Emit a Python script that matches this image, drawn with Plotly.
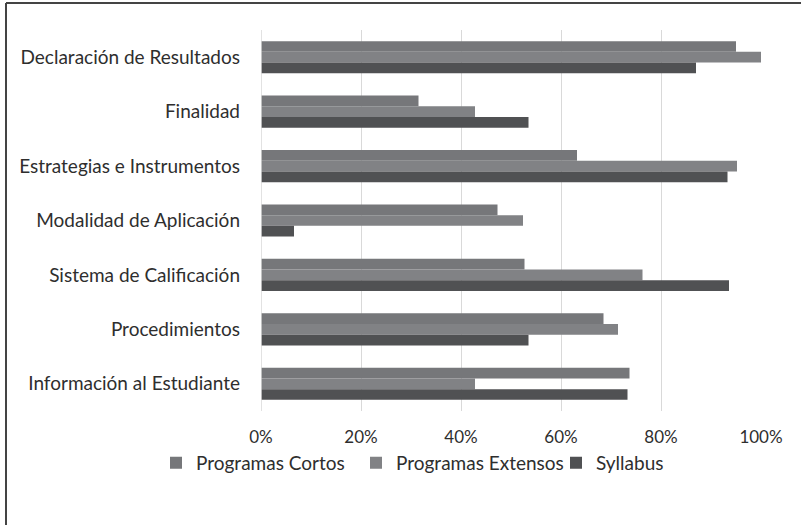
import plotly.graph_objects as go

categories = [
    "Declaración de Resultados",
    "Finalidad",
    "Estrategias e Instrumentos",
    "Modalidad de Aplicación",
    "Sistema de Calificación",
    "Procedimientos",
    "Información al Estudiante",
]
programas_cortos = [0.95, 0.315, 0.632, 0.473, 0.527, 0.685, 0.737]
programas_extensos = [1.00, 0.428, 0.952, 0.524, 0.763, 0.714, 0.428]
syllabus = [0.87, 0.535, 0.933, 0.066, 0.936, 0.535, 0.733]

series = [
    ("Programas Cortos", programas_cortos, "#76777a"),
    ("Programas Extensos", programas_extensos, "#818285"),
    ("Syllabus", syllabus, "#505153"),
]

FONT = "Lato"
TXT = "#2e2e2e"

fig = go.Figure()
for name, vals, col in series:
    fig.add_trace(go.Bar(
        y=categories, x=vals, name=name, orientation="h",
        marker=dict(color=col, line=dict(width=0)),
    ))

fig.update_layout(
    width=801, height=525,
    margin=dict(l=261, r=40, t=30, b=114),
    paper_bgcolor="white", plot_bgcolor="white",
    barmode="group", bargap=0.41, bargroupgap=0,
    font=dict(family=FONT, size=18, color=TXT),
    xaxis=dict(
        range=[0, 1], tickvals=[0, 0.2, 0.4, 0.6, 0.8, 1.0],
        tickformat=".0%", showgrid=True, gridcolor="#d9d9d9", gridwidth=1,
        zeroline=False, showline=False, ticks="", ticklabelstandoff=14,
        tickfont=dict(family=FONT, size=17, color=TXT),
    ),
    yaxis=dict(
        autorange="reversed", showgrid=False, zeroline=False,
        showline=False, ticks="", ticklabelstandoff=20,
        tickfont=dict(family=FONT, size=19, color=TXT),
    ),
    legend=dict(
        orientation="h", x=(156 - 261) / 500, xanchor="left",
        y=-0.136, yanchor="middle",
        font=dict(family=FONT, size=19, color=TXT), itemwidth=30,
        entrywidth=155, entrywidthmode="pixels",
        traceorder="normal",
    ),
    shapes=[
        dict(type="line", xref="x", yref="paper", x0=0, x1=0, y0=0, y1=1,
             line=dict(color="#d9d9d9", width=1.5)),
        dict(type="line", xref="paper", yref="paper",
             x0=(6 - 261) / 500, x1=(6 - 261) / 500,
             y0=(411 - 525) / 381, y1=(411 - 3) / 381,
             line=dict(color="#444444", width=2)),
        dict(type="line", xref="paper", yref="paper",
             x0=(6 - 261) / 500, x1=(801 - 261) / 500,
             y0=(411 - 3) / 381, y1=(411 - 3) / 381,
             line=dict(color="#444444", width=2)),
    ],
)

fig.write_html("out.html", config={"displayModeBar": False},
               post_script="document.body.style.margin='0';")
